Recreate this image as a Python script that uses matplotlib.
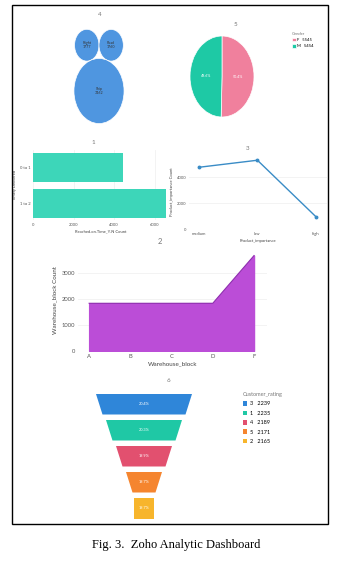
import matplotlib
matplotlib.use("Agg")
import matplotlib.pyplot as plt
from matplotlib.patches import Ellipse, Rectangle, Polygon, Patch
import numpy as np

plt.rcParams['font.family'] = ['Lato', 'DejaVu Sans']

# ---- data ----
shipment_modes = ["Flight", "Road", "Ship"]
shipment_counts = [1777, 1760, 7462]

gender = ["F", "M"]
gender_counts = [5545, 5454]

delivered = ["0 to 1", "1 to 2"]
delivered_counts = [4436, 6563]

importance = ["medium", "low", "high"]
importance_counts = [4754, 5297, 948]

blocks = ["A", "B", "C", "D", "F"]
block_counts = [1833, 1833, 1833, 1834, 3666]

ratings = ["3", "1", "4", "5", "2"]
rating_counts = [2239, 2235, 2189, 2171, 2165]

W, H = 352, 562
fig = plt.figure(figsize=(W / 100, H / 100), dpi=100)
GRAY = "#555555"
GRID = "#eeeeee"


def px_axes(l, t, r, b):
    return fig.add_axes([l / W, 1 - b / H, (r - l) / W, (b - t) / H])


def px_text(x, y, s, **kw):
    fig.text(x / W, 1 - y / H, s, ha="center", va="center", **kw)


def clean(ax, fs):
    for s in ax.spines.values():
        s.set_visible(False)
    ax.tick_params(length=0, labelsize=fs, colors=GRAY, pad=2)


# ---- 4: bubble chart ----
ax = px_axes(59, 10, 139, 130)
k = 0.29
rF, rR, rS = [k * np.sqrt(c) for c in shipment_counts]
centers = [(-rF, np.sqrt((rS + rF) ** 2 - rF ** 2)),
           (rR, np.sqrt((rS + rR) ** 2 - rR ** 2)),
           (0, 0)]
for (cx, cy), rr, m, c in zip(centers, [rF, rR, rS], shipment_modes, shipment_counts):
    ax.add_patch(Ellipse((cx, cy), 2 * rr, 2 * rr, facecolor="#4f96e0",
                         edgecolor="white", lw=0.5))
    ax.text(cx, cy, f"{m}\n{c}", ha="center", va="center", fontsize=2.6,
            color="#333333", linespacing=1.1)
ax.set_xlim(-40, 40)
ax.set_ylim(-30, 62.3)
ax.axis("off")
px_text(100, 15, "4", fontsize=4.5, color="#777777")

# ---- 5: pie ----
ax = px_axes(190, 36, 254, 117)
wedges, _, autotexts = ax.pie(gender_counts, colors=["#f0809d", "#1ec9a5"],
                              startangle=90, counterclock=False,
                              autopct="%.1f%%", pctdistance=0.5,
                              textprops=dict(color="white", fontsize=2.6),
                              wedgeprops=dict(edgecolor="white", linewidth=0.5))
ax.set_aspect("auto")
ax.set_xlim(-1, 1)
ax.set_ylim(-1, 1)
px_text(235, 25, "5", fontsize=4.5, color="#777777")
leg = ax.legend(wedges, [f"{g}   {c}" for g, c in zip(gender, gender_counts)],
                title="Gender", loc="upper left",
                bbox_to_anchor=(288 / W, 1 - 28 / H), bbox_transform=fig.transFigure,
                frameon=False, fontsize=3, title_fontsize=3, handlelength=0.9,
                handleheight=0.9, handletextpad=0.4, labelspacing=0.5,
                alignment="left")
leg.get_title().set_color("#777777")

# ---- 1: horizontal bar ----
ax = px_axes(33, 150, 168, 220)
ax.barh([1, 0], delivered_counts, height=0.8, color="#3dd6b9", zorder=2)
ax.set_yticks([1, 0], delivered)
ax.set_xticks([0, 2000, 4000, 6000])
ax.set_xlim(0, 6650)
ax.set_ylim(-0.46, 1.49)
ax.grid(axis="x", color=GRID, lw=0.5)
clean(ax, 3)
ax.set_xlabel("Reached.on.Time_Y.N Count", fontsize=3, color="#444444", labelpad=2)
ax.set_ylabel("Timely Delivered", fontsize=3, color="#444444", labelpad=2)
px_text(93, 142, "1", fontsize=4.5, color="#777777")

# ---- 3: line ----
ax = px_axes(189, 155, 327, 229)
ax.plot(range(len(importance)), importance_counts, color="#3a8cc6", lw=1,
        marker="o", ms=1.8, zorder=3)
ax.set_xticks(range(len(importance)), importance)
ax.set_yticks([0, 2000, 4000])
ax.set_xlim(-0.17, 2.19)
ax.set_ylim(0, 5700)
ax.grid(axis="y", color=GRID, lw=0.5)
clean(ax, 3)
ax.set_xlabel("Product_importance", fontsize=3, color="#444444", labelpad=2)
ax.set_ylabel("Product_importance Count", fontsize=3, color="#444444", labelpad=2)
px_text(248, 149, "3", fontsize=4.5, color="#777777")

# ---- 2: area ----
ax = px_axes(78, 250, 267, 351)
x = np.arange(len(blocks))
ax.fill_between(x, block_counts, color="#bb4dd7", zorder=2)
ax.plot(x, block_counts, color="#8e2fae", lw=0.8, zorder=3)
ax.set_xticks(x, blocks)
ax.set_yticks([0, 1000, 2000, 3000])
ax.set_xlim(-0.27, 4.315)
ax.set_ylim(0, 3880)
ax.grid(axis="y", color=GRID, lw=0.5)
clean(ax, 4.2)
ax.set_xlabel("Warehouse_block", fontsize=4.5, color="#444444", labelpad=2)
ax.set_ylabel("Warehouse_block Count", fontsize=4.5, color="#444444", labelpad=3)
px_text(160, 241, "2", fontsize=5.5, color="#777777")

# ---- 6: funnel ----
ax = px_axes(80, 385, 210, 522)
ax.set_xlim(80, 210)
ax.set_ylim(522, 385)
ax.axis("off")
funnel_colors = ["#2f86d9", "#1fc8a5", "#e2506f", "#f5852f", "#f7b52c"]
total = sum(rating_counts)
cx = 144
for i, (c, col) in enumerate(zip(rating_counts, funnel_colors)):
    top = 394 + 26 * i
    bot = top + 20.5
    wt = max(96 - 20 * i, 20)
    wb = max(wt - 13, 20)
    ax.add_patch(Polygon([(cx - wt / 2, top), (cx + wt / 2, top),
                          (cx + wb / 2, bot), (cx - wb / 2, bot)],
                         closed=True, facecolor=col, edgecolor="none"))
    ax.text(cx, (top + bot) / 2, f"{c / total * 100:.1f}%", ha="center",
            va="center", fontsize=2.8, color="white")
px_text(168, 381, "6", fontsize=4.5, color="#777777")
handles = [Patch(facecolor=col) for col in funnel_colors]
leg = fig.legend(handles, [f"{r}   {c}" for r, c in zip(ratings, rating_counts)],
                 title="Customer_rating", loc="upper left",
                 bbox_to_anchor=(238 / W, 1 - 387 / H), frameon=False,
                 fontsize=4, title_fontsize=4, handlelength=0.8, handleheight=0.9,
                 handletextpad=0.4, labelspacing=0.75, alignment="left")
leg.get_title().set_color("#777777")

# ---- frame and caption ----
fig.add_artist(Rectangle((12 / W, 1 - 524 / H), 316 / W, 519 / H,
                         transform=fig.transFigure, fill=False, lw=1,
                         edgecolor="black"))
fig.text(176 / W, 1 - 545 / H, "Fig. 3.  Zoho Analytic Dashboard",
         ha="center", va="center", family="Liberation Serif", fontsize=9)

fig.savefig("out.png", dpi=100)
